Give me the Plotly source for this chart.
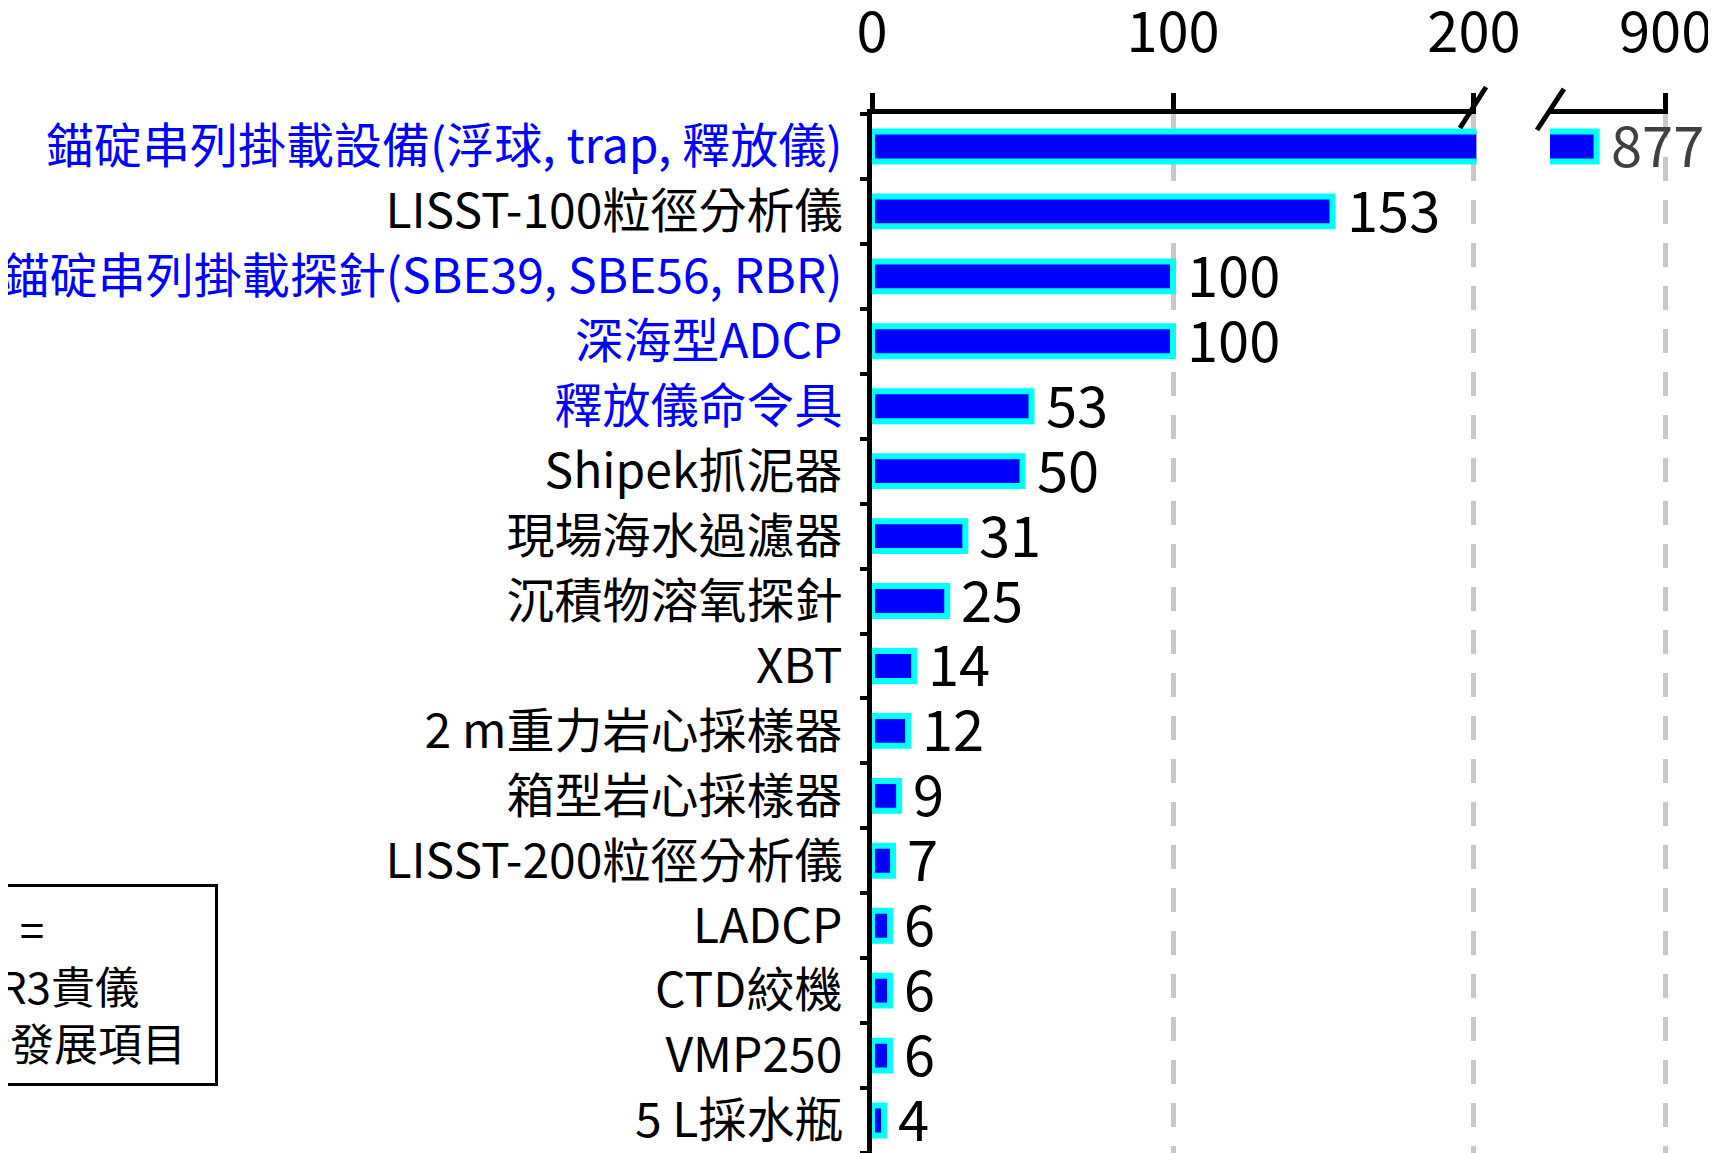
import plotly.graph_objects as go

# data
categories = [
    "錨碇串列掛載設備(浮球, trap, 釋放儀)",
    "LISST-100粒徑分析儀",
    "錨碇串列掛載探針(SBE39, SBE56, RBR)",
    "深海型ADCP",
    "釋放儀命令具",
    "Shipek抓泥器",
    "現場海水過濾器",
    "沉積物溶氧探針",
    "XBT",
    "2 m重力岩心採樣器",
    "箱型岩心採樣器",
    "LISST-200粒徑分析儀",
    "LADCP",
    "CTD絞機",
    "VMP250",
    "5 L採水瓶",
]
values = [877, 153, 100, 100, 53, 50, 31, 25, 14, 12, 9, 7, 6, 6, 6, 4]
highlight = [True, False, True, True, True] + [False] * 11
left_ticks = [0, 100, 200]
right_ticks = [900]

FONT = "Noto Sans CJK TC"
BLUE = "#0000ff"
CYAN = "#00ffff"

ticktext = [
    f'<span style="color:{BLUE}">{c}</span>' if h else c
    for c, h in zip(categories, highlight)
]

fig = go.Figure()

# main bars (left segment, 0-200), the long one is clipped at the break
fig.add_trace(go.Bar(
    x=values, y=categories, orientation="h",
    marker=dict(color=BLUE, line=dict(color=CYAN, width=6)),
    width=0.46, xaxis="x", yaxis="y", cliponaxis=True,
))
# right segment near 900, only the big one
fig.add_trace(go.Bar(
    x=values[:1], y=categories[:1], orientation="h",
    marker=dict(color=BLUE, line=dict(color=CYAN, width=6)),
    width=0.46, xaxis="x2", yaxis="y", cliponaxis=True,
))

# value labels
for c, v in zip(categories[1:], values[1:]):
    fig.add_annotation(x=v, y=c, xref="x", yref="y", text=str(v),
                       showarrow=False, xanchor="left", xshift=12, yshift=4,
                       font=dict(family=FONT, size=56, color="black"))
fig.add_annotation(x=values[0], y=categories[0], xref="x2", yref="y",
                   text=str(values[0]), showarrow=False, xanchor="left",
                   xshift=12, yshift=4,
                   font=dict(family=FONT, size=56, color="#404040"))

# axis break marks
for x0, x1, y0, y1 in [(0.7387, 0.7714, 0.9865, 1.026),
                       (0.8354, 0.8693, 0.9846, 1.0241)]:
    fig.add_shape(type="line", xref="paper", yref="paper", x0=x0, x1=x1,
                  y0=y0, y1=y1, line=dict(color="black", width=5))

# legend-like box at bottom left (cut off by the page edge)
fig.add_annotation(
    xref="paper", yref="paper", x=-0.821, y=0.1617, xanchor="right", yanchor="middle",
    text=f'<span style="color:{BLUE}">藍字</span> =<br>為OR3貴儀<br>自行發展項目\u00a0\u00a0',
    align="left", showarrow=False, bgcolor="white", bordercolor="black",
    borderwidth=3, borderpad=9, font=dict(family=FONT, size=44, color="black"),
)

xcommon = dict(
    side="top", anchor="y", showline=True, linecolor="black", linewidth=5,
    ticks="outside", ticklen=16, tickwidth=5, tickcolor="black",
    showgrid=True, gridcolor="#c8c8c8", gridwidth=5, griddash="24px,19px",
    zeroline=False, tickfont=dict(family=FONT, size=56, color="black"),
    ticklabelstandoff=19, automargin=False,
)

fig.update_layout(
    width=1708, height=1145,
    margin=dict(l=864, r=48, t=106, b=0),
    paper_bgcolor="white", plot_bgcolor="white",
    showlegend=False, barmode="overlay",
    font=dict(family=FONT, color="black"),
    xaxis=dict(domain=[0, 0.7593], range=[0, 200.8], tickmode="array",
               tickvals=left_ticks, **xcommon),
    xaxis2=dict(domain=[0.8518, 1], range=[861.5, 900.8], tickmode="array",
                tickvals=right_ticks, **xcommon),
    yaxis=dict(
        type="category", range=[15.5, -0.5], tickmode="array",
        tickvals=categories, ticktext=ticktext, tickson="boundaries",
        ticks="outside", ticklen=7, tickwidth=4, tickcolor="black",
        showline=True, linecolor="black", linewidth=5, showgrid=False,
        zeroline=False, ticklabelstandoff=15, automargin=False,
        tickfont=dict(family=FONT, size=48, color="black"),
    ),
)

fig.write_html("out.html")
